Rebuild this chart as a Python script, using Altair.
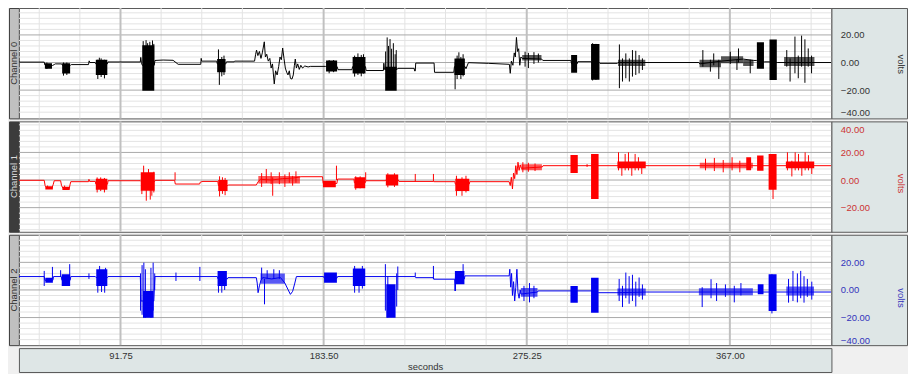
import altair as alt
import pandas as pd

FONT = "Liberation Sans"
PW, PH, SW, BW, AH = 817, 111, 76, 10, 24

X_DOMAIN = [45.875, 412.875]
X_TICKS = [91.75, 183.5, 275.25, 367.0]
X_MINOR = [55.05, 73.4, 110.1, 128.45, 146.8, 165.15, 201.85, 220.2, 238.55,
           256.9, 293.6, 311.95, 330.3, 348.65, 385.35, 403.7]
Y_MINOR = [-36, -32, -28, -24, -16, -12, -8, -4, 4, 8, 12, 16, 24, 28, 32, 36, 40]
Y_MAJOR = [-20, 0, 20]

names = ["Channel 0", "Channel 1", "Channel 2"]
sig_colors = ["#000000", "#ff0000", "#0000f0"]
lab_colors = ["#333333", "#cc3333", "#3333bb"]
box_fills = ["#c0c0c0", "#3c3c3c", "#c0c0c0"]
box_text = ["#303030", "#dddddd", "#303030"]
y_domains = [[-40.5, 39.5], [-37.5, 42.5], [-40.0, 40.0]]
y_labels = [[-40, -20, 0, 20], [-20, 0, 20, 40], [-40, -20, 0, 20]]
volts_y = [56, 62, 63]

# ---- channel 0 -------------------------------------------------------------
ch0_line = [
    (45.9, 0.3), (57.3, 0.3), (57.6, -1.8), (61.0, -2.2), (61.8, -1.5), (62.3, -1.0),
    (65.2, -1.0), (65.5, -2.0), (69.2, -2.0), (69.5, -1.5), (77.3, -1.5), (77.6, 1.2),
    (77.9, 0.0), (80.3, 0.0), (80.6, -1.0), (85.8, -1.0), (86.1, 0.4), (100.7, 0.4),
    (100.9, 3.7), (101.2, 0.0), (101.6, -2.0), (107.0, -2.0), (107.3, 1.5), (111.0, 1.8),
    (115.5, 1.6), (117.8, -1.3), (128.0, -1.3), (128.2, 3.0), (128.4, 1.0), (135.2, 1.0),
    (135.5, -1.0), (139.3, -1.0), (139.6, 0.5), (143.1, 0.5), (143.3, 1.0), (152.3, 1.0),
    (152.8, 6.0), (153.2, 9.0), (153.8, 5.0), (154.5, 8.0), (155.2, 3.0), (155.8, 7.0),
    (156.7, 15.0), (157.2, 4.0), (157.8, 6.0), (158.5, 1.0), (159.2, 3.0), (159.8, -4.0),
    (160.4, -1.0), (161.2, -15.5), (161.8, -6.0), (162.5, -9.0), (163.2, -3.0), (163.8, 4.0),
    (164.4, 2.0), (165.0, 10.5), (165.6, 3.0), (166.2, -4.0), (166.8, -7.0), (167.4, -9.0),
    (168.0, -6.0), (168.5, -11.5), (169.2, -12.0), (169.8, -9.0), (170.3, -2.0), (170.7, 2.5),
    (171.2, -4.0), (171.8, -1.0), (172.5, -5.0), (173.2, -2.0), (174.0, -4.0), (175.0, -2.5),
    (176.5, -3.2), (177.5, -2.8), (184.3, -2.8), (184.6, -3.0), (189.6, -3.0), (190.0, -5.2),
    (196.3, -5.2), (196.6, -3.0), (202.4, -3.0), (202.7, -5.8), (210.5, -5.8), (210.7, -0.5),
    (211.0, -5.0), (216.7, -5.0), (217.0, -4.2), (224.4, -4.2), (224.6, -6.1), (224.9, -6.1),
    (225.1, -0.4), (233.4, -0.4), (233.6, -7.1), (242.3, -7.1), (242.6, -3.0), (247.4, -3.0),
    (247.8, -4.5), (248.9, -0.1), (258.0, -0.6), (267.4, -1.3), (267.8, -7.8), (268.3, 1.0),
    (269.0, -2.0), (269.6, 7.0), (270.1, 4.0), (270.6, 18.2), (271.1, 8.0), (271.6, 10.0),
    (272.1, -2.0), (272.6, 4.0), (273.2, 3.0), (282.0, 2.5), (282.5, 1.5), (295.2, 1.5),
    (295.5, -1.0), (298.0, -1.0), (298.3, 0.6), (304.2, 0.6), (304.5, 0.0), (308.0, 0.0),
    (308.3, -0.6), (316.2, -0.6), (316.5, 0.0), (353.0, 0.0), (353.4, -1.0), (363.0, 1.0),
    (373.0, 2.5), (377.7, 1.5), (379.0, 1.5), (382.6, 0.5), (384.7, 0.5), (388.4, 0.0),
    (412.8, 0.0),
]
ch0_blocks = [
    (57.6, 60.8, -4.5, -0.6), (65.4, 69.0, -8.0, -0.5), (80.6, 85.8, -9.0, 2.0),
    (101.6, 107.0, -20.5, 12.5), (135.4, 139.2, -7.0, 2.5), (184.6, 189.6, -6.5, 1.5),
    (196.6, 202.4, -8.0, 4.0), (211.3, 216.5, -20.5, -3.0), (242.6, 247.3, -9.0, 3.0),
    (295.3, 298.0, -7.5, 5.5), (304.3, 308.1, -12.5, 13.5),
    (379.2, 382.4, -4.5, 14.7), (384.9, 388.2, -12.6, 16.6),
]
ch0_fuzz = [
    (273.2, 281.9, 1.5, 5.5), (316.5, 328.8, -2.5, 2.0), (353.3, 363.0, -3.5, 2.0),
    (363.0, 373.0, -0.5, 4.5), (373.0, 377.7, -2.5, 2.0), (391.5, 405.2, -2.5, 4.0),
]
ch0_spikes = [
    (58.5, -4.7, 0.0), (66.0, -9.5, 0.0), (67.5, -9.0, 0.0), (81.5, -11.9, 2.0),
    (82.2, -5.0, 3.5), (83.0, -10.5, 3.0), (84.5, -11.5, 2.0),
    (102.0, 0.0, 15.5), (103.3, 0.0, 16.2), (104.0, 0.0, 14.0), (105.0, 0.0, 15.0),
    (106.2, 0.0, 16.0), (106.8, 0.0, 13.5),
    (136.0, -3.0, 9.5), (136.4, -16.2, 0.0), (137.5, -10.0, 4.0), (138.5, -9.0, 5.0),
    (186.0, -7.8, 1.8), (188.0, -7.0, 1.8),
    (197.5, -10.2, 5.0), (199.0, -9.0, 6.6), (200.5, -10.0, 5.5), (201.5, -8.0, 6.0),
    (211.5, -5.0, 8.0), (212.2, -5.0, 18.2), (212.8, -5.0, 12.0), (213.5, -5.0, 17.0),
    (214.2, -5.0, 10.0), (215.0, -5.0, 14.0), (215.8, -5.0, 6.0), (216.3, -5.0, 9.0),
    (242.9, -19.4, 0.0), (243.8, -12.0, 5.0), (244.6, -5.0, 7.4), (245.5, -12.0, 4.0),
    (246.5, -10.0, 6.0),
    (274.5, -3.0, 7.8), (276.0, -4.0, 7.0), (278.5, -1.0, 7.5), (280.5, 0.0, 6.5),
    (305.0, -13.0, 14.0), (306.5, -12.5, 13.5),
    (317.1, -18.6, 13.1), (318.5, -13.8, 3.0), (320.0, -11.4, 6.6), (321.6, -13.8, 3.0),
    (323.0, -10.2, 9.0), (324.5, -9.0, 8.5), (326.0, -7.8, 5.4), (327.5, -5.4, 3.0),
    (354.8, -3.0, 9.0), (358.2, -6.6, 2.0), (359.7, -2.0, 6.6), (362.0, -11.9, 2.0),
    (367.2, -1.0, 7.8), (370.2, -5.4, 2.0), (370.9, 0.0, 10.2), (376.2, -7.8, 2.0),
    (392.7, -3.0, 9.0), (394.2, -13.8, 3.0), (396.4, -7.8, 18.8), (397.9, -11.4, 5.0),
    (399.4, -3.0, 19.5), (400.9, -14.7, 16.8), (402.4, -3.0, 10.2), (403.9, -7.8, 5.0),
]

# ---- channel 1 -------------------------------------------------------------
ch1_line = [
    (45.9, -0.2), (57.3, -0.2), (57.7, -4.0), (58.3, -5.5), (60.8, -5.8), (61.4, -3.0),
    (61.8, -0.5), (64.7, -0.5), (65.1, -4.0), (65.8, -6.0), (68.6, -6.2), (69.0, -3.0),
    (69.3, -1.2), (77.3, -1.2), (77.5, 0.5), (77.8, -1.0), (80.4, -1.0), (80.6, -3.0),
    (85.9, -3.0), (86.1, -0.5), (100.7, -0.5), (101.0, -1.0), (107.2, -1.0), (107.5, -0.2),
    (116.2, -0.2), (116.5, -2.9), (127.5, -2.9), (127.8, -1.5), (129.0, -1.0), (135.7, -1.0),
    (136.0, -4.0), (140.2, -4.0), (140.4, -3.6), (153.1, -3.6), (154.0, -1.0), (155.0, 0.5),
    (160.0, 0.0), (165.0, 1.0), (170.0, 1.5), (173.3, 2.4), (183.0, 2.4), (183.3, -2.5),
    (189.5, -2.5), (189.8, 0.7), (197.2, 0.7), (197.4, -2.0), (202.3, -2.0), (202.6, -0.5),
    (211.4, -0.5), (211.6, 0.0), (217.3, 0.0), (217.5, -1.0), (233.1, -1.0), (233.3, -1.2),
    (242.8, -1.2), (243.0, -3.0), (249.3, -3.0), (249.5, -1.2), (267.3, -1.2), (267.8, -4.0),
    (268.3, 2.0), (268.8, -6.5), (269.3, 5.0), (269.8, 1.0), (270.3, 10.4), (270.8, 4.0),
    (271.3, 12.9), (271.8, 7.0), (272.3, 11.0), (272.8, 8.5), (282.3, 9.5), (282.6, 10.4),
    (412.8, 10.4),
]
ch1_blocks = [
    (57.8, 61.2, -6.8, -4.5), (65.5, 68.8, -7.2, -4.8), (80.6, 85.8, -7.0, 1.0),
    (100.9, 107.2, -7.8, 5.6), (135.9, 140.1, -8.0, 0.0),
    (183.2, 189.0, -5.3, -0.5), (197.4, 202.3, -6.0, 2.0), (211.6, 217.2, -4.0, 4.0),
    (243.0, 249.3, -8.0, 1.0), (295.0, 298.3, 5.1, 18.2),
    (304.3, 307.7, -13.8, 18.9), (316.2, 329.0, 8.5, 13.5),
    (374.4, 376.6, 7.0, 16.5), (379.3, 382.2, 6.8, 17.7), (384.5, 388.1, -7.0, 18.9),
    (392.3, 405.1, 8.5, 13.5),
]
ch1_fuzz = [
    (154.0, 172.8, -2.5, 3.0), (272.8, 282.1, 7.0, 11.5), (353.4, 377.4, 8.5, 12.5),
]
ch1_spikes = [
    (58.8, -6.5, -4.0), (66.5, -7.0, -4.0), (81.2, -9.0, 1.9), (82.8, -8.0, 1.9),
    (84.5, -9.0, 1.5),
    (101.4, -10.2, 3.0), (102.2, -3.0, 10.4), (103.4, -15.0, 2.0), (104.4, -4.0, 8.0),
    (105.2, -14.2, 3.0), (105.9, -11.4, 4.0), (106.8, -9.0, 6.0),
    (116.4, -0.2, 5.6),
    (136.5, -11.9, 2.7), (137.8, -10.0, 2.0), (139.0, -11.0, 1.5),
    (155.5, -5.0, 5.0), (157.6, -2.0, 8.0), (159.8, -3.0, 5.6), (160.5, -11.4, 2.0),
    (163.5, -3.0, 5.6), (166.0, -5.0, 4.0), (168.0, -2.0, 5.6), (169.5, -4.1, 3.0),
    (171.0, -2.0, 6.3),
    (189.3, 0.0, 10.4),
    (198.0, -7.0, 2.7), (200.0, -6.0, 2.7), (202.5, -0.5, 5.6),
    (212.5, -5.3, 4.9), (215.5, -5.0, 4.9),
    (224.9, -1.0, 4.4), (233.1, -1.0, 4.4),
    (243.5, -11.4, 3.1), (246.0, -11.4, 2.0), (247.8, -9.0, 3.1),
    (273.5, 5.6, 12.9), (276.0, 6.0, 12.5), (279.0, 6.5, 12.0),
    (302.5, 9.5, 11.5),
    (316.7, 7.0, 20.1), (318.2, 3.1, 12.0), (319.7, 7.0, 18.9), (321.2, 7.0, 20.1),
    (322.7, 3.1, 12.0), (324.2, 7.0, 18.9), (325.7, 7.0, 16.5), (327.2, 4.4, 12.0),
    (356.0, 7.0, 15.5), (360.0, 6.5, 16.0), (364.0, 5.6, 14.5), (368.0, 7.0, 16.5),
    (371.5, 5.6, 14.0),
    (386.5, -13.8, 0.0),
    (393.0, 7.0, 20.1), (395.0, 2.6, 14.0), (396.5, 7.0, 20.1), (398.0, 7.0, 18.9),
    (399.5, 3.1, 13.0), (401.0, 7.0, 20.1), (402.5, 7.0, 18.0), (404.0, 4.4, 13.0),
]

# ---- channel 2 -------------------------------------------------------------
ch2_line = [
    (45.9, 9.7), (57.3, 9.7), (57.6, 7.0), (61.2, 7.0), (61.5, 9.7), (65.0, 9.7),
    (65.3, 7.0), (69.0, 7.0), (69.3, 9.7), (80.4, 9.7), (80.7, 9.0), (85.9, 9.0),
    (86.1, 9.7), (100.7, 9.7), (101.0, -8.0), (106.8, -8.0), (107.3, 9.7), (135.5, 9.7),
    (135.8, 8.0), (140.0, 8.0), (140.3, 8.9), (153.1, 8.9), (153.5, 5.0), (153.9, -2.0),
    (154.5, 3.0), (155.2, 7.0), (156.0, 9.0), (160.0, 8.0), (164.0, 9.0), (166.0, 5.0),
    (167.5, 0.0), (168.5, -3.2), (169.5, -1.0), (170.5, 5.0), (171.2, 9.7), (183.5, 9.7),
    (183.8, 8.5), (189.5, 8.5), (189.8, 9.7), (224.9, 9.7), (225.1, 8.9), (233.1, 8.9),
    (233.3, 7.8), (242.7, 7.8), (242.9, -0.7), (243.2, 8.0), (247.1, 8.0), (247.3, 10.2),
    (267.3, 10.2), (267.6, 15.0), (268.0, 2.0), (268.4, 12.0), (268.8, -4.0), (269.3, 6.0),
    (269.8, -8.0), (270.3, 2.0), (270.8, 15.0), (271.3, -2.0), (271.8, -6.0), (272.3, 0.0),
    (272.6, -3.0), (280.1, -1.5), (280.4, -0.7), (304.3, -0.7), (307.7, -2.0), (316.0, -2.0),
    (329.2, -1.5), (412.8, -1.5),
]
ch2_blocks = [
    (57.8, 61.2, 5.3, 8.9), (65.2, 69.0, 2.9, 11.4), (80.8, 85.8, 2.9, 15.0),
    (101.9, 106.7, -20.1, -0.7), (135.6, 139.8, 2.9, 13.8),
    (183.7, 189.5, 5.3, 12.6), (196.7, 202.3, 2.9, 15.5), (211.8, 216.0, -20.1, 4.1),
    (242.8, 247.1, 4.1, 13.8), (295.0, 298.3, -9.2, 2.9),
    (304.3, 307.7, -16.5, 8.9), (379.6, 382.2, -3.2, 4.1), (384.5, 388.1, -15.3, 11.4),
]
ch2_fuzz = [
    (155.0, 166.0, 4.5, 12.0), (272.6, 280.1, -5.0, 1.5), (316.2, 329.0, -4.0, 1.0),
    (353.0, 377.4, -3.8, 1.2), (392.5, 405.0, -4.0, 2.5),
]
ch2_spikes = [
    (57.3, 2.9, 13.8), (61.0, 8.0, 16.7), (64.7, 9.7, 14.3), (68.8, 9.0, 18.7),
    (77.5, 8.0, 12.0),
    (81.5, -2.0, 10.0), (82.3, 9.0, 17.4), (83.2, -1.5, 12.0), (84.6, -2.0, 10.0),
    (85.0, 9.0, 16.0),
    (100.8, -15.0, 12.0), (101.5, -18.0, 18.0), (102.3, -20.1, 19.8), (103.0, -20.1, 15.0),
    (105.5, -20.1, 16.0), (106.5, -15.0, 19.8), (107.2, 0.0, 12.0),
    (116.8, 6.5, 12.6), (127.6, 6.5, 16.7),
    (136.0, -2.0, 9.0), (137.5, -2.0, 10.0), (138.8, 0.0, 12.0),
    (155.5, 8.0, 16.2), (156.8, -10.4, 8.0), (158.0, 8.0, 14.3), (161.0, 8.0, 15.0),
    (163.5, 8.0, 14.3),
    (197.5, -2.0, 17.4), (199.5, -2.0, 14.0), (201.0, 1.0, 17.4),
    (211.4, -15.0, 18.7), (212.5, -20.1, 10.0), (216.5, -12.0, 12.0), (217.0, 0.0, 17.0),
    (224.9, 9.7, 12.6), (233.1, 7.8, 17.4),
    (243.0, -0.7, 9.0), (246.5, 9.0, 18.7),
    (274.0, -8.0, 3.0), (276.5, -9.0, 5.0), (278.5, -6.0, 3.0),
    (317.0, -8.0, 8.0), (318.5, -12.4, 3.0), (320.0, -6.0, 12.6), (321.5, -10.0, 10.0),
    (323.0, -8.0, 11.0), (324.5, -12.0, 6.0), (326.0, -5.0, 9.0), (327.5, -7.0, 4.0),
    (354.5, -12.4, 2.0), (358.5, -6.0, 7.8), (361.0, -8.0, 5.0), (365.0, -5.0, 4.0),
    (369.0, -9.0, 3.0), (372.0, -4.0, 5.0),
    (386.0, -17.0, 11.4),
    (393.5, -9.2, 8.0), (395.5, -8.0, 13.8), (397.5, -9.0, 12.0), (399.0, -6.0, 13.8),
    (400.5, -9.2, 10.0), (402.0, -5.0, 8.0), (404.0, -7.0, 6.0),
]

lines = [ch0_line, ch1_line, ch2_line]
blocks = [ch0_blocks, ch1_blocks, ch2_blocks]
fuzz = [ch0_fuzz, ch1_fuzz, ch2_fuzz]
spikes = [ch0_spikes, ch1_spikes, ch2_spikes]

XS = alt.Scale(domain=X_DOMAIN, nice=False, zero=False)


def plot_panel(i):
    dom = y_domains[i]
    ys = alt.Scale(domain=dom, nice=False, zero=False)
    col = sig_colors[i]
    ymin = [v for v in Y_MINOR if dom[0] < v < dom[1]]
    ldf = pd.DataFrame(lines[i], columns=["t", "v"])
    ldf["i"] = range(len(ldf))
    bdf = pd.DataFrame(blocks[i], columns=["t0", "t1", "lo", "hi"])
    fdf = pd.DataFrame(fuzz[i], columns=["t0", "t1", "lo", "hi"])
    sdf = pd.DataFrame(spikes[i], columns=["t", "lo", "hi"])
    g1 = alt.Chart(pd.DataFrame({"v": ymin})).mark_rule(color="#e3e3e3", strokeWidth=1).encode(
        y=alt.Y("v:Q", scale=ys, axis=None))
    g2 = alt.Chart(pd.DataFrame({"t": X_MINOR})).mark_rule(color="#e3e3e3", strokeWidth=1).encode(
        x=alt.X("t:Q", scale=XS, axis=None))
    g3 = alt.Chart(pd.DataFrame({"v": Y_MAJOR})).mark_rule(color="#a8a8a8", strokeWidth=1).encode(
        y=alt.Y("v:Q", scale=ys, axis=None))
    g4 = alt.Chart(pd.DataFrame({"t": X_TICKS})).mark_rule(color="#c0c0c0", strokeWidth=2).encode(
        x=alt.X("t:Q", scale=XS, axis=None))
    frects = alt.Chart(fdf).mark_rect(color=col, opacity=0.65, clip=True).encode(
        x=alt.X("t0:Q", scale=XS, axis=None), x2="t1:Q",
        y=alt.Y("lo:Q", scale=ys, axis=None), y2="hi:Q")
    rects = alt.Chart(bdf).mark_rect(color=col, clip=True).encode(
        x=alt.X("t0:Q", scale=XS, axis=None), x2="t1:Q",
        y=alt.Y("lo:Q", scale=ys, axis=None), y2="hi:Q")
    rules = alt.Chart(sdf).mark_rule(color=col, strokeWidth=1, clip=True).encode(
        x=alt.X("t:Q", scale=XS, axis=None),
        y=alt.Y("lo:Q", scale=ys, axis=None), y2="hi:Q")
    line = alt.Chart(ldf).mark_line(color=col, strokeWidth=1, clip=True).encode(
        x=alt.X("t:Q", scale=XS, axis=None),
        y=alt.Y("v:Q", scale=ys, axis=None), order="i:Q")
    return alt.layer(g1, g2, g3, g4, frects, rects, rules, line).properties(
        width=PW, height=PH,
        view=alt.ViewBackground(fill="#ffffff", stroke="#5a5a5a", strokeWidth=1))


def side_panel(i):
    ys = alt.Scale(domain=y_domains[i], nice=False, zero=False)
    return alt.Chart(pd.DataFrame({"v": [0]})).mark_point(opacity=0, size=1).encode(
        y=alt.Y("v:Q", scale=ys, axis=alt.Axis(
            orient="right", offset=-SW, values=y_labels[i], format=".2f",
            labelFlush=5, labelOverlap=False, ticks=False, tickSize=0,
            domain=False, grid=False, labelPadding=9, labelColor=lab_colors[i],
            labelFont=FONT, labelFontSize=9.5, title="volts", titleColor=lab_colors[i],
            titleFont=FONT, titleFontSize=9.5, titleFontWeight="normal", titleAngle=90,
            titleX=69, titleY=volts_y[i], titleAlign="center", titleBaseline="middle"))
    ).properties(width=SW, height=PH,
                 view=alt.ViewBackground(fill="#dee6e6", stroke="#5a5a5a", strokeWidth=1))


def label_box(i):
    return alt.Chart(pd.DataFrame({"name": [names[i]]})).mark_text(
        angle=270, font=FONT, fontSize=9.5, color=box_text[i]).encode(
        text="name:N", x=alt.value(BW / 2), y=alt.value(PH / 2)
    ).properties(width=BW, height=PH,
                 view=alt.ViewBackground(fill=box_fills[i], stroke="#404040", strokeWidth=1))


def spacer(w):
    return alt.Chart(pd.DataFrame({"a": [0]})).mark_point(opacity=0, size=1).encode(
        x=alt.value(w / 2), y=alt.value(AH / 2)).properties(
        width=w, height=AH, view=alt.ViewBackground(fill="transparent", stroke="transparent"))


x_panel = alt.Chart(pd.DataFrame({"t": [200.0]})).mark_point(opacity=0, size=1).encode(
    x=alt.X("t:Q", scale=XS, axis=alt.Axis(
        orient="bottom", offset=-AH, values=X_TICKS, format=".2f", ticks=False, tickSize=0,
        domain=False, grid=False, labelPadding=2, labelFont=FONT, labelFontSize=9.5,
        labelColor="#333333", labelFlush=False, title="seconds", titleFont=FONT,
        titleFontSize=9.5, titleFontWeight="normal", titleColor="#333333",
        titleY=18, titleBaseline="middle")),
    y=alt.value(AH / 2)
).properties(width=PW, height=AH,
             view=alt.ViewBackground(fill="#dee6e6", stroke="#5a5a5a", strokeWidth=1))

cells = []
for i in range(3):
    cells += [label_box(i), plot_panel(i), side_panel(i)]
cells += [spacer(BW), x_panel, spacer(SW)]

chart = alt.ConcatChart(
    concat=cells, columns=3, bounds="flush",
    spacing={"row": 3, "column": 0},
).properties(padding={"left": 0, "top": -3, "right": 0, "bottom": 0},
             background="#f0f0f0")

chart.save("out.html", embed_options={"renderer": "svg", "actions": False})
